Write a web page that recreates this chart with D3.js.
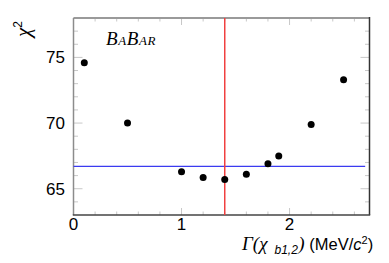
<!DOCTYPE html>
<html>
<head>
<meta charset="utf-8">
<script src="https://cdn.jsdelivr.net/npm/d3@7"></script>
<style>
  body { margin: 0; background: #fff; }
  svg { display: block; }
</style>
</head>
<body>
<script>
const width = 389;
const height = 263;

// data
const gammaValues = [0.1, 0.5, 1.0, 1.2, 1.4, 1.6, 1.8, 1.9, 2.2, 2.5];
const chi2Values = [74.6, 70.0, 66.3, 65.85, 65.7, 66.1, 66.9, 67.5, 69.9, 73.3];
const xTicks = [0, 1, 2];
const yTicks = [65, 70, 75];
const bestGamma = 1.4;
const chi2Level = 66.7;
const levelRange = [0, 2.7];

const x = d3.scaleLinear().domain([0, 2.74]).range([73.5, 369.5]);
const y = d3.scaleLinear().domain([63, 78]).range([215, 18]);

const svg = d3
  .select("body")
  .append("svg")
  .attr("width", width)
  .attr("height", height)
  .style("font-family", "'Liberation Sans', Arial, sans-serif");

const [x0, x1] = x.range();
const [y0, y1] = y.range();

/* ticks: ROOT style, major + minor, mirrored on top / right */
const xMinor = d3.range(0, 2.74, 0.2).filter((v) => Math.abs(v - Math.round(v)) > 1e-6);
const yMinor = d3.range(64, 78.01, 1).filter((v) => v % 5 !== 0);

const ticks = svg.append("g").attr("stroke", "#c8c8c8").attr("stroke-width", 1);

xTicks.forEach((v) => {
  ticks.append("line").attr("x1", x(v)).attr("x2", x(v)).attr("y1", y0).attr("y2", y0 - 7);
  ticks.append("line").attr("x1", x(v)).attr("x2", x(v)).attr("y1", y1).attr("y2", y1 + 7);
});
xMinor.forEach((v) => {
  ticks.append("line").attr("x1", x(v)).attr("x2", x(v)).attr("y1", y0).attr("y2", y0 - 3.5);
  ticks.append("line").attr("x1", x(v)).attr("x2", x(v)).attr("y1", y1).attr("y2", y1 + 3.5);
});
yTicks.forEach((v) => {
  ticks.append("line").attr("x1", x0).attr("x2", x0 + 9).attr("y1", y(v)).attr("y2", y(v));
  ticks.append("line").attr("x1", x1).attr("x2", x1 - 9).attr("y1", y(v)).attr("y2", y(v));
});
yMinor.forEach((v) => {
  ticks.append("line").attr("x1", x0).attr("x2", x0 + 4.5).attr("y1", y(v)).attr("y2", y(v));
  ticks.append("line").attr("x1", x1).attr("x2", x1 - 4.5).attr("y1", y(v)).attr("y2", y(v));
});

/* frame */
svg.append("line").attr("x1", x0).attr("x2", x1).attr("y1", y1).attr("y2", y1)
  .attr("stroke", "#9a9a9a").attr("stroke-width", 2);
svg.append("line").attr("x1", x0).attr("x2", x0).attr("y1", y1).attr("y2", y0)
  .attr("stroke", "#8c8c8c").attr("stroke-width", 1.5);
svg.append("line").attr("x1", x1).attr("x2", x1).attr("y1", y1 - 1).attr("y2", y0)
  .attr("stroke", "#333").attr("stroke-width", 1.5);
svg.append("line").attr("x1", x0 - 0.7).attr("x2", x1 + 0.7).attr("y1", y0).attr("y2", y0)
  .attr("stroke", "#444").attr("stroke-width", 1.5);

/* tick labels */
svg.append("g")
  .selectAll("text")
  .data(xTicks)
  .join("text")
  .attr("x", (d) => x(d))
  .attr("y", 230)
  .attr("text-anchor", "middle")
  .attr("font-size", 17)
  .attr("fill", "#000")
  .text((d) => d);

svg.append("g")
  .selectAll("text")
  .data(yTicks)
  .join("text")
  .attr("x", 65)
  .attr("y", (d) => y(d) + 6)
  .attr("text-anchor", "end")
  .attr("font-size", 17)
  .attr("fill", "#000")
  .text((d) => d);

/* reference lines */
svg.append("line")
  .attr("x1", x(levelRange[0])).attr("x2", x(levelRange[1]))
  .attr("y1", y(chi2Level)).attr("y2", y(chi2Level))
  .attr("stroke", "#3b3bf0").attr("stroke-width", 1.3);

svg.append("line")
  .attr("x1", x(bestGamma)).attr("x2", x(bestGamma))
  .attr("y1", y1).attr("y2", y0)
  .attr("stroke", "#f04040").attr("stroke-width", 1.5);

/* points */
svg.append("g")
  .selectAll("circle")
  .data(gammaValues.map((g, i) => [g, chi2Values[i]]))
  .join("circle")
  .attr("cx", (d) => x(d[0]))
  .attr("cy", (d) => y(d[1]))
  .attr("r", 3.5)
  .attr("fill", "#000");

/* BaBar logo text */
const logo = svg.append("text")
  .attr("x", 106)
  .attr("y", 45)
  .attr("font-family", "'Liberation Serif', 'DejaVu Serif', serif")
  .attr("font-style", "italic")
  .attr("letter-spacing", 0.6)
  .attr("fill", "#000");
logo.append("tspan").attr("font-size", 19).text("B");
logo.append("tspan").attr("font-size", 13).text("A");
logo.append("tspan").attr("font-size", 19).text("B");
logo.append("tspan").attr("font-size", 13).text("AR");

/* y title */
const yTitle = svg.append("text")
  .attr("transform", "translate(30,37) rotate(-90)")
  .attr("font-family", "'Liberation Serif', serif")
  .attr("fill", "#000");
yTitle.append("tspan").attr("font-style", "italic").attr("font-size", 21).text("χ");
yTitle.append("tspan").attr("font-size", 12).attr("dy", -8)
  .attr("font-family", "'Liberation Sans', sans-serif").text("2");

/* x title */
const xTitle = svg.append("text")
  .attr("x", 242)
  .attr("y", 250)
  .attr("fill", "#000")
  .attr("font-size", 17);
xTitle.append("tspan").attr("font-family", "'Liberation Serif', serif")
  .attr("font-style", "italic").attr("font-size", 19).text("Γ(χ");
xTitle.append("tspan").attr("font-style", "italic").attr("font-size", 12)
  .attr("dx", 7).attr("dy", 4).text("b1,2");
xTitle.append("tspan").attr("font-family", "'Liberation Serif', serif")
  .attr("font-style", "italic").attr("font-size", 19).attr("dx", 0.5).attr("dy", -4).text(")");
xTitle.append("tspan").attr("font-size", 16.5).text(" (MeV/");
xTitle.append("tspan").attr("font-size", 16.5).attr("font-style", "italic").text("c");
xTitle.append("tspan").attr("font-size", 11).attr("dy", -6).text("2");
xTitle.append("tspan").attr("font-size", 16.5).attr("dy", 6).text(")");
</script>
</body>
</html>
